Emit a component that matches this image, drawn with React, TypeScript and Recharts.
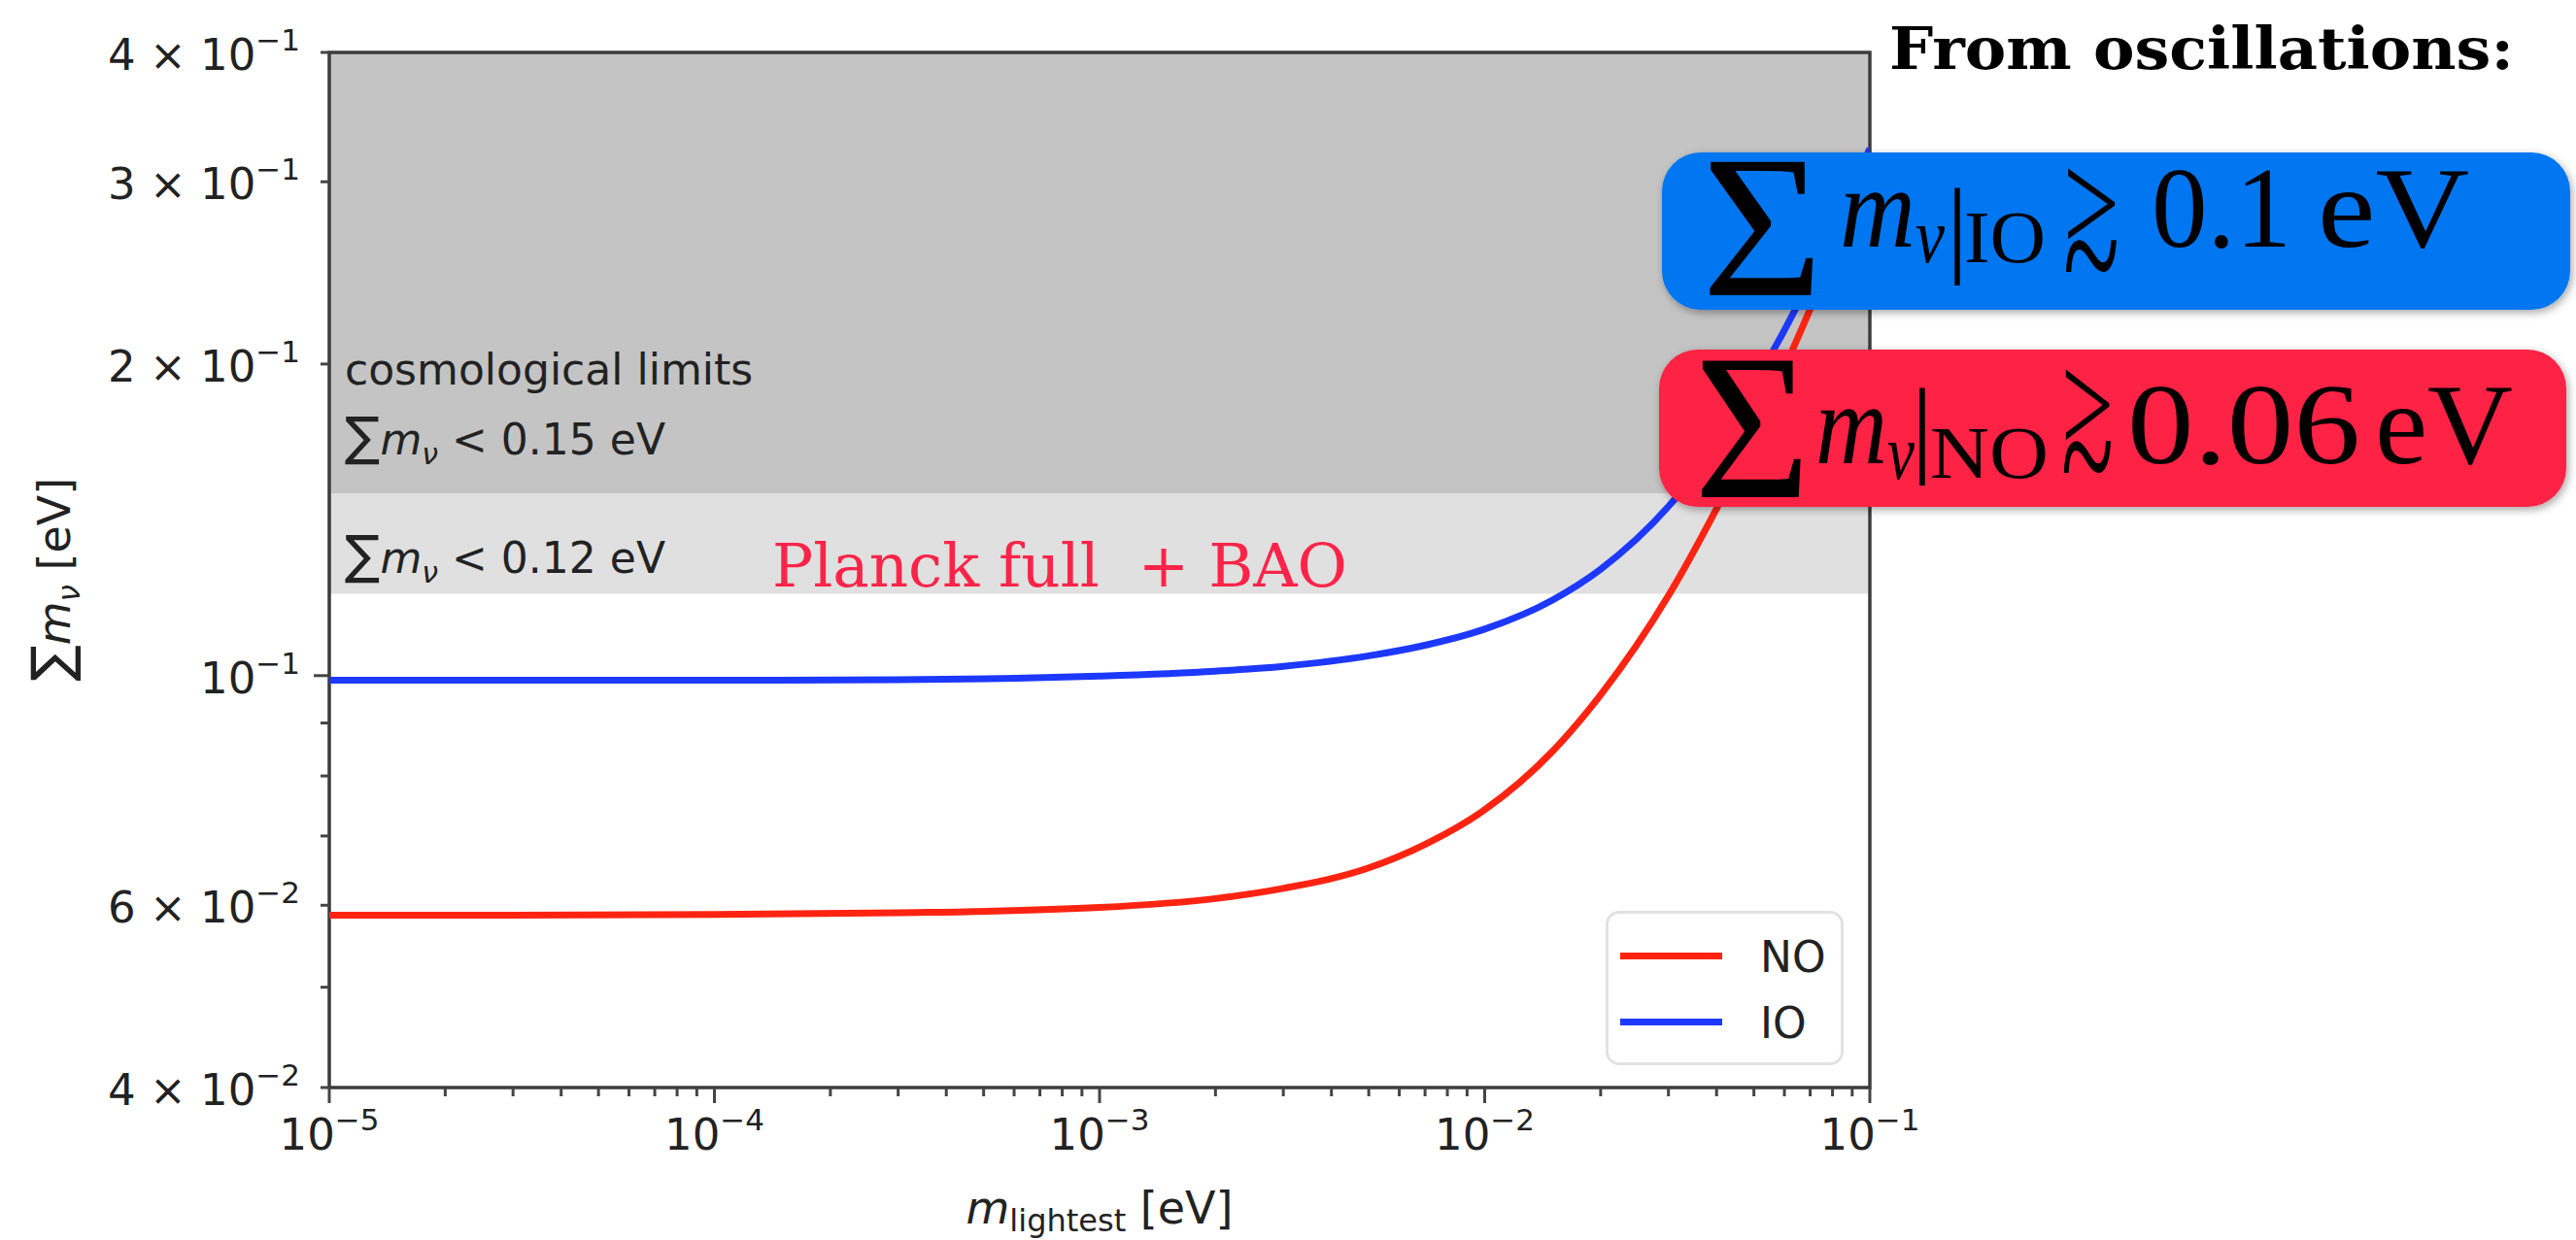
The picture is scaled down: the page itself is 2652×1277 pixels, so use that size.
import React from 'react';
import { LineChart, Line, XAxis, YAxis, ReferenceArea, Legend } from 'recharts';

// lightest neutrino mass [eV]
const mLightest = [
  1e-5, 3e-5, 1e-4, 3e-4, 1e-3, 2e-3, 3e-3, 5e-3, 7e-3, 1e-2, 1.5e-2, 2e-2, 3e-2, 4e-2, 5e-2, 7e-2, 1e-1,
];
// sum of masses, normal ordering [eV]
const noSum = [
  0.0587, 0.0587, 0.0588, 0.059, 0.0597, 0.0609, 0.0623, 0.0652, 0.0687, 0.0742, 0.0845, 0.0958, 0.1195, 0.145,
  0.171, 0.226, 0.312,
];
// sum of masses, inverted ordering [eV]
const ioSum = [
  0.099, 0.099, 0.099, 0.0991, 0.0999, 0.101, 0.1021, 0.1045, 0.107, 0.1109, 0.1183, 0.1267, 0.1457, 0.167, 0.191,
  0.241, 0.323,
];

// cosmological bounds
const limitPlanckBao = 0.12;
const limitCosmo = 0.15;

const xDomain = [1e-5, 1e-1];
const yDomain = [0.04, 0.4];

const xDecades = [1e-5, 1e-4, 1e-3, 1e-2, 1e-1];
const xDecadeExps = ['−5', '−4', '−3', '−2', '−1'];
const xMinorSteps = [2, 3, 4, 5, 6, 7, 8, 9];

const yTicks = [0.04, 0.05, 0.06, 0.07, 0.08, 0.09, 0.1, 0.2, 0.3, 0.4];
const yTickMantissa = ['4 × ', '', '6 × ', '', '', '', '', '2 × ', '3 × ', '4 × '];
const yTickExps = ['−2', '', '−2', '', '', '', '−1', '−1', '−1', '−1'];

const legendOrder = ['NO', 'IO'];

const data = mLightest.map((m, i) => ({ m, no: noSum[i], io: ioSum[i] }));

const xTicks = [
  ...xDecades,
  ...xDecades.slice(0, -1).flatMap((d) => xMinorSteps.map((s) => s * d)),
].sort((a, b) => a - b);

const SANS = 'DejaVu Sans';
const SERIF = 'Liberation Serif';
const INK = '#222';

const isDecade = (v: number) => Math.abs(Math.log10(v) - Math.round(Math.log10(v))) < 1e-6;

const XTick = (props: any) => {
  const { x, y, payload } = props;
  const v = payload.value;
  const major = isDecade(v);
  const idx = xDecades.findIndex((d) => Math.abs(d - v) / d < 1e-6);
  return (
    <g>
      <line x1={x} x2={x} y1={y} y2={y + (major ? 16 : 9)} stroke="#444" strokeWidth={3} />
      {major && idx >= 0 && (
        <text x={x} y={y + 64} textAnchor="middle" fontFamily={SANS} fontSize={45} fill={INK}>
          10
          <tspan dy={-20} fontSize={31}>
            {xDecadeExps[idx]}
          </tspan>
        </text>
      )}
    </g>
  );
};

const YTick = (props: any) => {
  const { x, y, payload } = props;
  const idx = yTicks.findIndex((t) => Math.abs(t - payload.value) < 1e-9);
  const major = payload.value === 0.1;
  const exp = idx >= 0 ? yTickExps[idx] : '';
  return (
    <g>
      <line x1={x} x2={x - (major ? 16 : 9)} y1={y} y2={y} stroke="#444" strokeWidth={3} />
      {exp && (
        <text x={x - 30} y={y + 18} textAnchor="end" fontFamily={SANS} fontSize={45} fill={INK}>
          {yTickMantissa[idx]}10
          <tspan dy={-20} fontSize={31}>
            {exp}
          </tspan>
        </text>
      )}
    </g>
  );
};

const renderLegend = (props: any) => {
  const items = [...(props.payload || [])].sort(
    (a: any, b: any) => legendOrder.indexOf(a.value) - legendOrder.indexOf(b.value),
  );
  return (
    <div
      style={{
        width: 245,
        height: 159,
        boxSizing: 'border-box',
        border: '3px solid #e2e2e2',
        borderRadius: 14,
        background: '#fff',
        position: 'relative',
        fontFamily: SANS,
        fontSize: 44,
        color: INK,
      }}
    >
      {items.map((it: any, i: number) => (
        <div key={it.value} style={{ position: 'absolute', left: 12, top: 20 + i * 68, height: 50, width: 230 }}>
          <div style={{ position: 'absolute', left: 0, top: 20, width: 105, height: 7, background: it.color }} />
          <div style={{ position: 'absolute', left: 144, top: 0, lineHeight: '50px' }}>{it.value}</div>
        </div>
      ))}
    </div>
  );
};

const Sum = ({ x, y, label }: { x: number; y: number; label: string }) => (
  <text x={x} y={y} fontFamily={SANS} fontSize={44} fill={INK}>
    <tspan fontSize={54}>∑</tspan>
    <tspan fontStyle="italic">m</tspan>
    <tspan fontStyle="italic" fontSize={30} dy={10}>
      ν
    </tspan>
    <tspan dy={-10}>{label}</tspan>
  </text>
);

// one piece of a typeset formula, squeezed to a given width
const Glyph = (p: {
  x: number;
  y: number;
  size: number;
  w?: number;
  italic?: boolean;
  family?: string;
  sy?: number;
  children: string;
}) => (
  <text
    transform={`translate(${p.x},${p.y}) scale(1,${p.sy ?? 1})`}
    fontSize={p.size}
    fontStyle={p.italic ? 'italic' : 'normal'}
    fontFamily={p.family ?? SERIF}
    textLength={p.w}
    lengthAdjust={p.w ? 'spacingAndGlyphs' : undefined}
  >
    {p.children}
  </text>
);

// "greater than or approximately": a '>' set over a '~'
const Gtrsim = ({ x, y, w }: { x: number; y: number; w: number }) => (
  <g>
    <Glyph x={x} y={y} size={150} w={w}>{'>'}</Glyph>
    <Glyph x={x} y={y + 68} size={150} w={w} sy={1.3}>~</Glyph>
  </g>
);

const Annotations = () => (
  <svg
    width={2652}
    height={1277}
    style={{ position: 'absolute', left: 0, top: 0, pointerEvents: 'none' }}
  >
    <defs>
      <filter id="shade" x="-5%" y="-10%" width="110%" height="125%">
        <feDropShadow dx={2} dy={3} stdDeviation={4} floodColor="#000" floodOpacity={0.35} />
      </filter>
    </defs>

    {/* axis titles */}
    <text transform="translate(72,702) rotate(-90)" fontFamily={SANS} fontSize={46} fill={INK}>
      <tspan fontSize={56}>∑</tspan>
      <tspan fontStyle="italic">m</tspan>
      <tspan fontStyle="italic" fontSize={31} dy={10}>
        ν
      </tspan>
      <tspan dy={-10}> [eV]</tspan>
    </text>
    <text x={1132} y={1260} textAnchor="middle" fontFamily={SANS} fontSize={46} fill={INK}>
      <tspan fontStyle="italic">m</tspan>
      <tspan fontSize={32} dy={8}>
        lightest
      </tspan>
      <tspan dy={-8}> [eV]</tspan>
    </text>

    {/* band labels */}
    <text x={355} y={396} fontFamily={SANS} fontSize={44} fill={INK}>
      cosmological limits
    </text>
    <Sum x={355} y={468} label=" < 0.15 eV" />
    <Sum x={355} y={590} label=" < 0.12 eV" />
    <text
      x={795}
      y={604}
      fontFamily="DejaVu Serif"
      fontSize={62}
      fill="#fb2448"
      style={{ whiteSpace: 'pre' }}
      textLength={592}
      lengthAdjust="spacingAndGlyphs"
    >
      Planck full  + BAO
    </text>

    {/* oscillation bounds */}
    <text
      x={1945}
      y={71}
      fontFamily="DejaVu Serif"
      fontWeight="bold"
      fontSize={60}
      fill="#000"
      textLength={643}
      lengthAdjust="spacingAndGlyphs"
    >
      From oscillations:
    </text>

    <rect x={1711} y={157} width={935} height={162} rx={40} fill="#0676f1" filter="url(#shade)" />
    <g fill="#000">
      <Glyph x={1752} y={304} size={210} w={125}>Σ</Glyph>
      <Glyph x={1894} y={254} size={118} w={78} italic>m</Glyph>
      <Glyph x={1972} y={270} size={80} w={30} italic>ν</Glyph>
      <Glyph x={2004} y={271} size={110}>|</Glyph>
      <Glyph x={2022} y={270} size={77} w={84}>IO</Glyph>
      <Gtrsim x={2124} y={260} w={58} />
      <Glyph x={2215} y={254} size={118} w={144}>0.1</Glyph>
      <Glyph x={2386} y={254} size={118} w={156}>eV</Glyph>
    </g>

    <rect x={1708} y={360} width={934} height={162} rx={40} fill="#fe2344" filter="url(#shade)" />
    <g fill="#000">
      <Glyph x={1744} y={512} size={215} w={120}>Σ</Glyph>
      <Glyph x={1869} y={477} size={118} w={74} italic>m</Glyph>
      <Glyph x={1943} y={493} size={80} w={28} italic>ν</Glyph>
      <Glyph x={1968} y={477} size={110}>|</Glyph>
      <Glyph x={1987} y={492} size={77} w={122}>NO</Glyph>
      <Gtrsim x={2122} y={467} w={54} />
      <Glyph x={2190} y={477} size={118} w={240}>0.06</Glyph>
      <Glyph x={2445} y={477} size={118} w={142}>eV</Glyph>
    </g>
  </svg>
);

export default function App() {
  return (
    <div style={{ position: 'absolute', left: 0, top: 0, width: 2652, height: 1277, background: '#fff' }}>
      <LineChart width={2652} height={1277} data={data} margin={{ top: 54, right: 727, bottom: 0, left: 0 }}>
        <XAxis
          dataKey="m"
          type="number"
          scale="log"
          domain={xDomain}
          allowDataOverflow
          ticks={xTicks}
          interval={0}
          height={157}
          tickSize={0}
          tickMargin={0}
          tickLine={false}
          axisLine={false}
          tick={<XTick />}
        />
        <YAxis
          type="number"
          scale="log"
          domain={yDomain}
          allowDataOverflow
          ticks={yTicks}
          interval={0}
          width={339}
          tickSize={0}
          tickMargin={0}
          tickLine={false}
          axisLine={false}
          tick={<YTick />}
        />
        <ReferenceArea x1={xDomain[0]} x2={xDomain[1]} y1={limitPlanckBao} y2={limitCosmo} fill="#e0e0e0" fillOpacity={1} stroke="none" />
        <ReferenceArea x1={xDomain[0]} x2={xDomain[1]} y1={limitCosmo} y2={yDomain[1]} fill="#c4c4c4" fillOpacity={1} stroke="none" />
        <Line type="monotone" dataKey="no" name="NO" stroke="#ff2412" strokeWidth={7} dot={false} isAnimationActive={false} />
        <Line type="monotone" dataKey="io" name="IO" stroke="#1d38ff" strokeWidth={7} dot={false} isAnimationActive={false} />
        <ReferenceArea
          x1={xDomain[0]}
          x2={xDomain[1]}
          y1={yDomain[0]}
          y2={yDomain[1]}
          fill="none"
          stroke="#3c3c3c"
          strokeWidth={3.5}
        />
        <Legend
          layout="vertical"
          align="center"
          verticalAlign="middle"
          content={renderLegend}
          wrapperStyle={{ left: 1653, top: 938, width: 245, height: 159 }}
        />
      </LineChart>
      <Annotations />
    </div>
  );
}
